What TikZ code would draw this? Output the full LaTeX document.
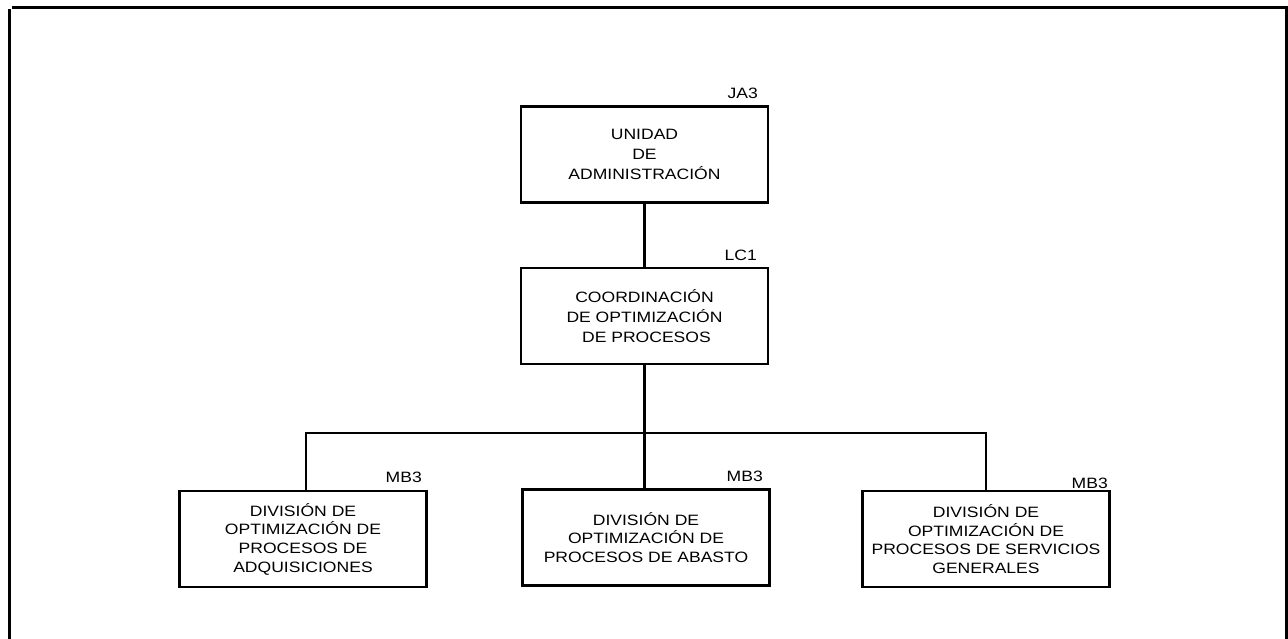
\documentclass[tikz,border=0pt]{standalone}
\usepackage{fontspec}
\setmainfont{Liberation Sans}[FakeStretch=1.17]
\begin{document}
\begin{tikzpicture}[x=1pt,y=-1pt,
  frameline/.style={line width=3pt},
  unitbox/.style={draw,line width=2.3pt,minimum width=247pt,minimum height=96pt,align=center,inner sep=0pt,
    font=\fontsize{15}{20}\selectfont},
  divbox/.style={unitbox,font=\fontsize{15}{18.7}\selectfont},
  code/.style={anchor=east,inner sep=0pt,font=\fontsize{15}{18}\selectfont},
  link/.style={line width=2.8pt}]
\useasboundingbox (0,0) rectangle (1288,638);
% frame
\coordinate (f1) at (9,9);
\coordinate (f2) at (9,640);
\coordinate (f3) at (12,7);
\coordinate (f4) at (1286,7);
\coordinate (f5) at (1286,640);
\draw[frameline] (f1) -- (f2);
\draw[frameline] (f3) -- (f4) -- (f5);
% boxes
\node[unitbox] (ua) at (644.5,154.5) {UNIDAD\\DE\\ADMINISTRACIÓN};
\node[unitbox] (co) at (644.5,316) {COORDINACIÓN\\DE OPTIMIZACIÓN\\\hphantom{i}DE PROCESOS};
\node[divbox] (d1) at (303,539) {DIVISIÓN DE\\OPTIMIZACIÓN DE\\PROCESOS DE\\ADQUISICIONES};
\node[divbox] (d2) at (646,537.5) {DIVISIÓN DE\\OPTIMIZACIÓN DE\\PROCESOS DE ABASTO};
\node[divbox] (d3) at (986,539) {DIVISIÓN DE\\OPTIMIZACIÓN DE\\PROCESOS DE SERVICIOS\\GENERALES};
% codes
\node[code] (ja) at (758,93) {JA3};
\node[code] (lc) at (757,255) {LC1};
\node[code] (m1) at (422,477) {MB3};
\node[code] (m2) at (763,476) {MB3};
\node[code] (m3) at (1108,483) {MB3};
% connectors
\coordinate (bus) at (644.5,433);
\draw[link] (ua.south) -- (co.north);
\draw[link] (co.south) -- (bus);
\draw[link] (d1.north -| 306,0) |- (bus) -| (d3.north);
\draw[link] (bus) -- (d2.north -| bus);
\end{tikzpicture}
\end{document}
